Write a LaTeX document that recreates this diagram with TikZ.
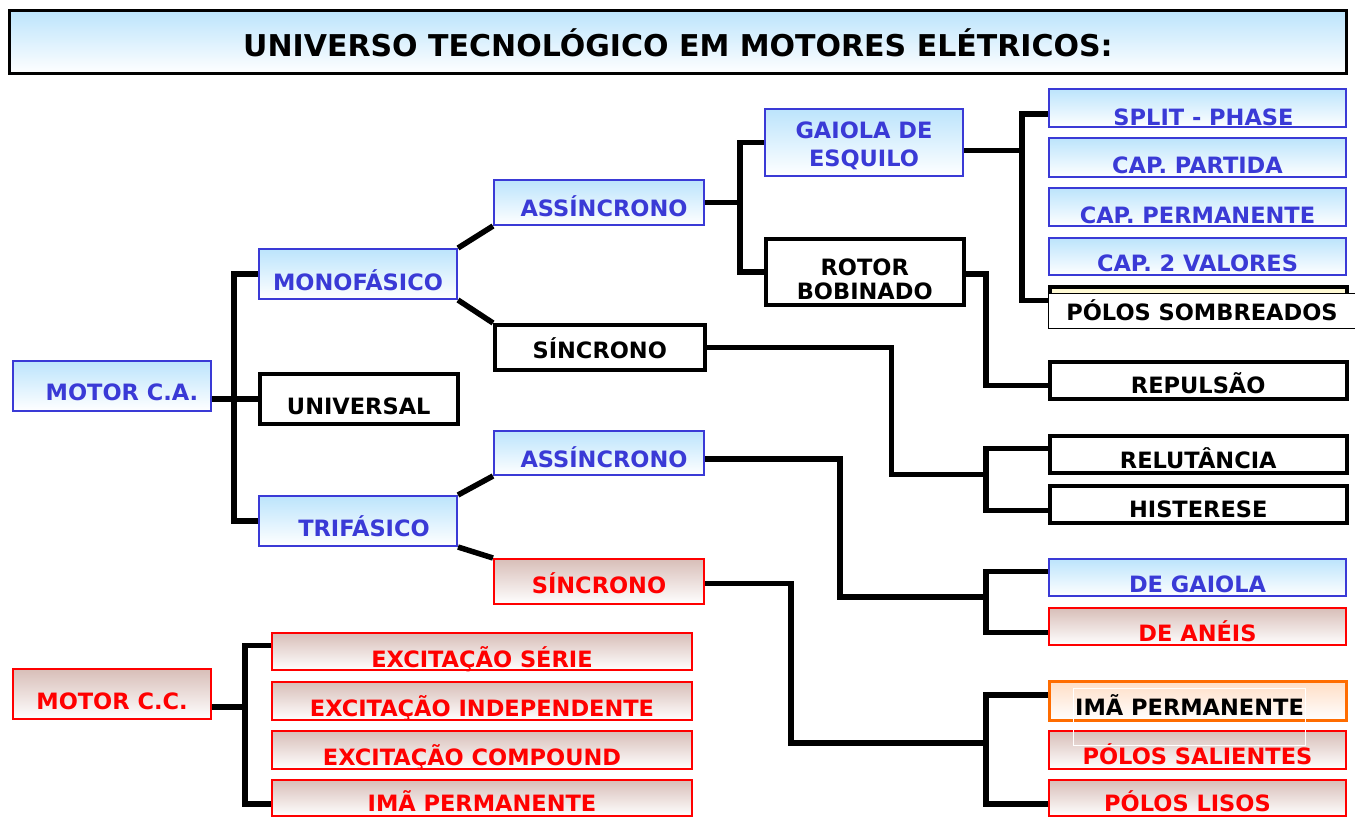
\documentclass[tikz,border=0pt]{standalone}
\usepackage{fontspec}
\setmainfont{DejaVu Sans}
\definecolor{azul}{RGB}{58,58,214}
\definecolor{ceu}{RGB}{188,228,252}
\definecolor{verm}{RGB}{255,0,0}
\definecolor{rosa}{RGB}{216,190,184}
\definecolor{laranja}{RGB}{255,108,0}
\definecolor{pessego}{RGB}{255,222,198}
\definecolor{creme}{RGB}{255,250,212}

\begin{document}
\begin{tikzpicture}[x=1pt, y=-1pt,
    caixa/.style={anchor=north west, inner sep=0pt, align=center,
      font=\bfseries\fontsize{22.5}{24}\selectfont},
    geo/.style n args={3}{minimum width=#1, text height=#2, text depth=#3},
    azulbox/.style={caixa, draw=azul, line width=2pt, text=azul, top color=ceu, bottom color=white},
    vermbox/.style={caixa, draw=verm, line width=2pt, text=verm, top color=rosa, bottom color=white},
    pretobox/.style={caixa, draw=black, line width=3.5pt, fill=white},
    lig/.style={line width=5.5pt}
  ]
    \useasboundingbox (0,0) rectangle (1355,817);

    % Titulo
    \node[caixa, draw=black, line width=3pt, top color=ceu, bottom color=white,
      font=\bfseries\fontsize{30}{32}\selectfont, geo={1337}{46}{17}] (titulo) at (8,9)
      {UNIVERSO TECNOLÓGICO EM MOTORES ELÉTRICOS:};

    % Motor C.A.
    \node[azulbox, geo={198}{39}{11}] (mca) at (12,360) {\hspace*{20pt}MOTOR C.A.};
    \node[azulbox, geo={198}{41}{9}] (mono) at (258,248) {MONOFÁSICO};
    \node[pretobox, geo={198}{41}{9}] (univ) at (258,372) {UNIVERSAL};
    \node[azulbox, geo={198}{40}{10}] (tri) at (258,495) {\hspace*{12pt}TRIFÁSICO};

    \node[azulbox, geo={210}{36}{9}] (asm) at (493,179) {\hspace*{10pt}ASSÍNCRONO};
    \node[pretobox, geo={210}{34}{11}] (sm) at (493,323) {SÍNCRONO};
    \node[azulbox, geo={210}{36}{8}] (ast) at (493,430) {\hspace*{10pt}ASSÍNCRONO};
    \node[vermbox, geo={210}{34}{11}] (st) at (493,558) {SÍNCRONO};

    \node[azulbox, geo={198}{57}{10}, font=\bfseries\fontsize{22.5}{28}\selectfont] (gaiola) at (764,108)
      {GAIOLA DE\\ESQUILO};
    \node[pretobox, geo={198}{61}{5}] (rotor) at (764,237) {ROTOR\\BOBINADO};

    % Coluna da direita
    \node[azulbox, geo={297}{36}{2}] (split) at (1048,88) {\hspace*{12pt}SPLIT - PHASE};
    \node[azulbox, geo={297}{35}{4}] (cpart) at (1048,137) {CAP. PARTIDA};
    \node[azulbox, geo={297}{35}{3}] (cperm) at (1048,187) {CAP. PERMANENTE};
    \node[azulbox, geo={297}{33}{4}] (c2v) at (1048,237) {CAP. 2 VALORES};
    \node[caixa, draw=black, line width=3.5pt, fill=creme, minimum width=297, minimum height=37] (sombfundo) at (1048,285) {};
    \node[caixa, draw=black, line width=1pt, fill=white, geo={307}{27}{8}] (somb) at (1048,293) {PÓLOS SOMBREADOS};
    \node[pretobox, geo={297}{32}{5}] (rep) at (1048,360) {REPULSÃO};
    \node[pretobox, geo={297}{33}{4}] (relut) at (1048,434) {RELUTÂNCIA};
    \node[pretobox, geo={297}{32}{5}] (hist) at (1048,484) {HISTERESE};
    \node[azulbox, geo={297}{33}{4}] (degaiola) at (1048,558) {DE GAIOLA};
    \node[vermbox, geo={297}{33}{4}] (aneis) at (1048,607) {DE ANÉIS};
    \node[caixa, draw=laranja, line width=3pt, top color=pessego, bottom color=white,
      minimum width=297, minimum height=39] (ima) at (1048,680) {};
    \node[vermbox, geo={297}{33}{5}] (psal) at (1048,730) {PÓLOS SALIENTES};
    \node[vermbox, geo={297}{31}{5}] (plisos) at (1048,779) {PÓLOS LISOS\hspace*{20pt}};
    \node[caixa, draw=white, line width=1pt, geo={232}{27}{30}] (imatxt) at (1073,688) {IMÃ PERMANENTE};

    % Motor C.C.
    \node[vermbox, geo={198}{40}{10}] (mcc) at (12,668) {MOTOR C.C.};
    \node[vermbox, geo={420}{34}{3}] (exs) at (271,632) {EXCITAÇÃO SÉRIE};
    \node[vermbox, geo={420}{34}{4}] (exi) at (271,681) {EXCITAÇÃO INDEPENDENTE};
    \node[vermbox, geo={420}{34}{4}] (exc) at (271,730) {EXCITAÇÃO COMPOUND\hspace*{20pt}};
    \node[vermbox, geo={420}{31}{5}] (imacc) at (271,779) {IMÃ PERMANENTE};

    % Barramentos
    \path (mono.west) ++(-24,0) coordinate (b1);
    \path (gaiola.west) ++(-24,0) coordinate (b2);
    \path (split.west) ++(-26,0) coordinate (b3);
    \path (relut.west) ++(-62,0) coordinate (b4);
    \path (exs.west) ++(-26,0) coordinate (b5);

    % Ligacoes
    \draw[lig] (mono.west) -- (b1) |- (tri.west);
    \draw[lig] (mca.east |- univ.west) -- (univ.west);
    \draw[lig] (mono.north east) -- (asm.south west);
    \draw[lig] (mono.south east) -- (sm.north west);
    \draw[lig] (tri.north east) -- (ast.south west);
    \draw[lig] (tri.south east) -- (st.north west);

    \draw[lig] (gaiola.west) -- (b2) |- (rotor.west);
    \draw[lig] (asm.east) -- (asm.east -| b2);

    \draw[lig] ([yshift=-6pt]split.west) -- ([yshift=-6pt]b3) |- ([yshift=5pt]sombfundo.west);
    \draw[lig] ([yshift=-8pt]gaiola.east) -- ([yshift=-8pt]gaiola.east -| b3);
    \draw[lig] ([yshift=-2pt]rotor.east) -| ([yshift=-5pt]rep.west -| b4) -- ([yshift=-5pt]rep.west);

    \draw[lig] ([yshift=6pt]relut.west) -- ([yshift=6pt]b4) |- ([yshift=-6pt]hist.west);
    \draw[lig] (sm.east) -- ++(185,0) coordinate (c1) |- (b4 |- relut.south);

    \draw[lig] ([yshift=6pt]degaiola.west) -- ([yshift=6pt]degaiola.west -| b4) |- ([yshift=-6pt]aneis.west);
    \draw[lig] ([yshift=-6pt]ast.east) -- ++(135,0) coordinate (c2) |- (b4 |- degaiola.south);

    \draw[lig] ([yshift=6pt]ima.west) -- ([yshift=6pt]ima.west -| b4) |- ([yshift=-6pt]plisos.west);
    \draw[lig] ([yshift=-2pt]st.east) -- ++(86,0) coordinate (c3) |- ([yshift=7pt]psal.west -| b4);

    \draw[lig] ([yshift=6pt]exs.west) -- ([yshift=6pt]b5) |- ([yshift=-6pt]imacc.west);
    \draw[lig] ([yshift=-13pt]mcc.east) -- ([yshift=-13pt]mcc.east -| b5);
\end{tikzpicture}
\end{document}
